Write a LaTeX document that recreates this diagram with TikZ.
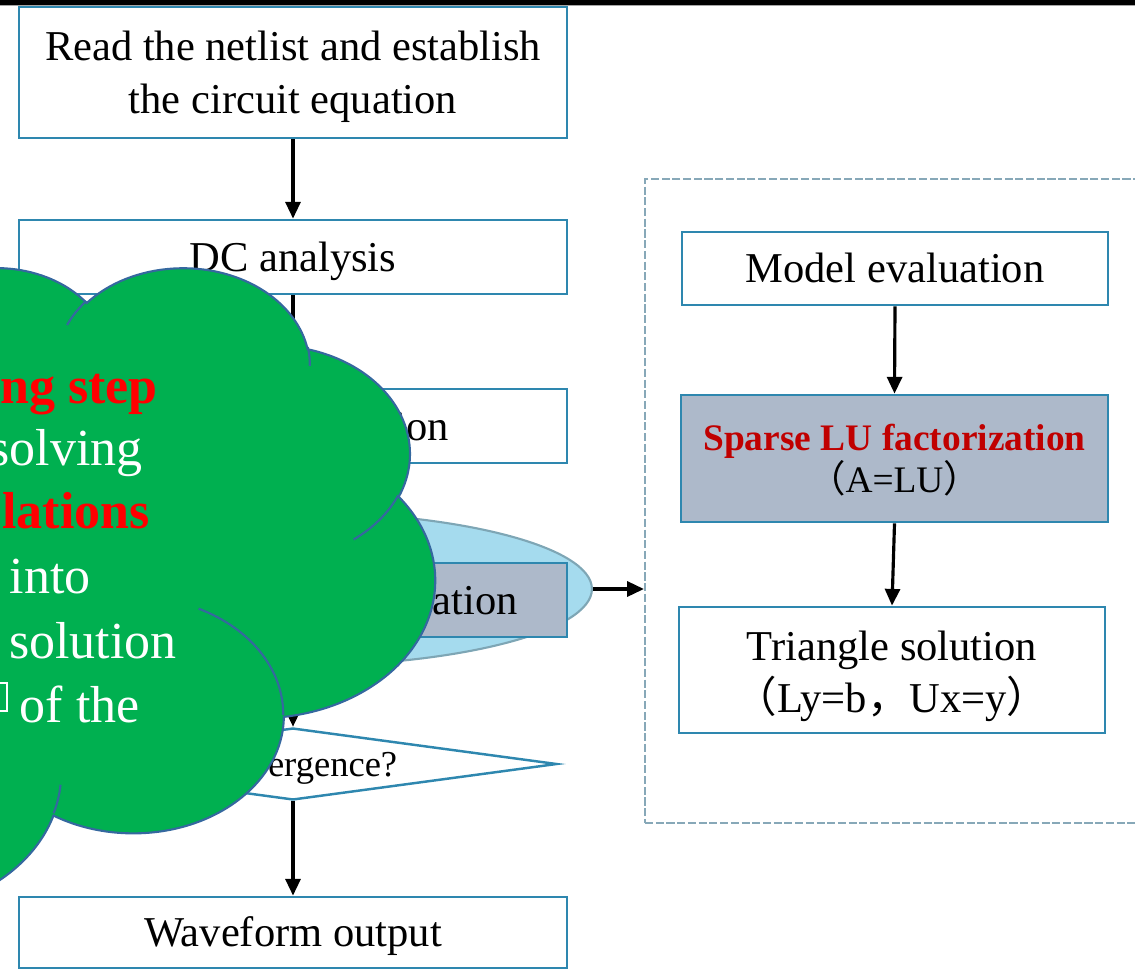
\documentclass[tikz,border=0pt]{standalone}
\usepackage{fontspec}
\setmainfont{Liberation Serif}
\newfontfamily\cjkfont{Noto Sans CJK SC}
\usetikzlibrary{arrows.meta,shapes.geometric}

\definecolor{boxblue}{RGB}{46,135,175}
\definecolor{boxgray}{HTML}{ADB9CA}
\definecolor{haloblue}{HTML}{A5DBEE}
\definecolor{halorim}{HTML}{7EA6B5}
\definecolor{cloudgreen}{HTML}{00B050}
\definecolor{cloudrim}{HTML}{35689F}
\definecolor{hotred}{HTML}{FF0000}
\definecolor{darkred}{HTML}{C00000}
\definecolor{dashgray}{HTML}{87A8B8}

% Elliptic arc given by radii (pt) and visual start/swing angles (deg);
% the angles are turned into parametric ones and "arc[...]" is stored in \#1
\newcommand\defcloudarc[5]{%
  \pgfmathsetmacro\cldA{#4}%
  \pgfmathsetmacro\cldB{(#4)+(#5)}%
  \pgfmathsetmacro\cldTA{(\cldA)+mod(atan2((#2)*sin(\cldA),(#3)*cos(\cldA))-(\cldA)+540,360)-180}%
  \pgfmathsetmacro\cldTB{(\cldB)+mod(atan2((#2)*sin(\cldB),(#3)*cos(\cldB))-(\cldB)+540,360)-180}%
  \expandafter\xdef\csname #1\endcsname{arc[start angle=\cldTA, end angle=\cldTB, x radius=#2pt, y radius=#3pt]}%
}

% cloud outline, drawn in a 43.2pt x 43.2pt frame with y pointing down
\defcloudarc{cldarcA}{6.753}{9.190}{-190.48748}{123.78053}
\defcloudarc{cldarcB}{5.333}{7.267}{-144.10238}{89.94523}
\defcloudarc{cldarcC}{4.365}{5.945}{-145.80792}{99.72302}
\defcloudarc{cldarcD}{4.857}{6.595}{-130.98607}{117.24173}
\defcloudarc{cldarcE}{5.333}{7.273}{-78.70888}{109.02692}
\defcloudarc{cldarcF}{6.775}{9.220}{-46.26725}{130.26900}
\defcloudarc{cldarcG}{5.785}{7.867}{0.62502}{114.03333}
\defcloudarc{cldarcH}{6.752}{9.215}{22.45160}{115.17255}
\defcloudarc{cldarcI}{7.720}{10.543}{66.24263}{77.82453}
\defcloudarc{cldarcJ}{4.360}{5.918}{-274.94208}{134.98358}
\defcloudarc{cldarcK}{4.345}{5.945}{-246.82850}{151.86362}
% inner creases of the cloud
\defcloudarc{cldstubA}{4.345}{5.945}{86.74200}{26.42950}
\defcloudarc{cldstubB}{4.360}{5.918}{73.61047}{11.44747}
\defcloudarc{cldstubC}{6.752}{9.215}{137.62415}{14.08110}
\defcloudarc{cldstubD}{6.752}{9.215}{6.45327}{15.99835}
\defcloudarc{cldstubE}{5.785}{7.867}{-70.29235}{70.91737}
\defcloudarc{cldstubF}{5.333}{7.273}{30.31800}{31.01380}
\defcloudarc{cldstubG}{4.857}{6.595}{-13.74907}{14.85072}
\defcloudarc{cldstubH}{4.857}{6.595}{-149.18145}{18.18433}
\defcloudarc{cldstubI}{4.365}{5.945}{-163.49427}{17.69867}
\defcloudarc{cldstubJ}{6.753}{9.190}{-66.70695}{12.31935}
\defcloudarc{cldstubK}{6.753}{9.190}{157.65435}{11.85817}

\tikzset{
  stepbox/.style={draw=boxblue, line width=1.6pt, fill=white, inner sep=0pt,
    font=\fontsize{24.2}{30.2}\selectfont, text height=21.56pt, text depth=5.23pt},
  graybox/.style={stepbox, fill=boxgray},
  boxline/.style={anchor=base, inner sep=0pt, font=\fontsize{24.2}{30.2}\selectfont},
  flow/.style={line width=1.8pt, -{Triangle[length=9.5pt,width=8.5pt]}},
  cloudtxt/.style={anchor=base east, inner sep=0pt,
    font=\fontsize{29.6}{36.3}\selectfont},
  cloudbold/.style={cloudtxt, text=hotred, font=\fontsize{29.6}{36.3}\selectfont\bfseries},
}

\begin{document}
\begin{tikzpicture}[x=0.02cm, y=-0.02cm]
\useasboundingbox (0,0) rectangle (1135,970);
\clip (0,0) rectangle (1135,970);

% top rule
\fill[black] (0,0) rectangle (1135,4.5);
\draw[black!35, line width=0.4pt] (0,5) -- (1135,5);

% detail frame on the right
\node[draw=dashgray, dash pattern=on 4.6pt off 1.5pt, line width=1.3pt,
  minimum width=10.1cm, minimum height=12.88cm, inner sep=0pt] (frame) at (897.5,501) {};

% main flow
\node[stepbox, minimum width=10.96cm, minimum height=2.62cm] (read) at (293,72.5) {};
\node[boxline] (read1) at (293,60) {Read the netlist and establish};
\node[boxline] (read2) at (293,113) {the circuit equation};
\node[stepbox, minimum width=10.96cm, minimum height=1.48cm] (dc) at (293,257) {DC analysis};
\node[stepbox, minimum width=10.96cm, minimum height=1.48cm] (trans) at (293,426) {Transient iteration};
\node[ellipse, draw=halorim, fill=haloblue, line width=1.2pt, minimum width=12cm,
  minimum height=3.08cm, inner sep=0pt] (halo) at (292,589) {};
\node[graybox, minimum width=10.96cm, minimum height=1.48cm] (nr) at (293,600) {Newton-Raphson iteration};
\node[diamond, draw=boxblue, line width=1.4pt, fill=white, aspect=7.33, inner sep=0pt,
  minimum width=10.56cm, minimum height=1.44cm, font=\fontsize{20.8}{24}\selectfont,
  text height=18.53pt, text depth=4.49pt] (conv) at (293,764) {Convergence?};
\node[stepbox, minimum width=10.96cm, minimum height=1.42cm] (wave) at (293,932.5) {Waveform output};

% detail steps
\node[stepbox, minimum width=8.52cm, minimum height=1.46cm] (model) at (895,268.5) {Model evaluation};
\node[graybox, minimum width=8.54cm, minimum height=2.54cm] (sparse) at (894.5,458.5) {};
\node[boxline, text=darkred, font=\fontsize{21.3}{24}\selectfont\bfseries] (sparse1) at (894.5,450) {Sparse LU factorization};
\node[boxline, font=\fontsize{21.3}{24}\selectfont] (sparse2) at (894.5,492) {{\cjkfont （}A=LU{\cjkfont ）}};
\node[stepbox, minimum width=8.52cm, minimum height=2.52cm] (tri) at (892,670) {};
\node[boxline] (tri1) at (892,660) {Triangle solution};
\node[boxline] (tri2) at (892,712) {{\cjkfont （}Ly=b{\cjkfont ，}Ux=y{\cjkfont ）}};

% connectors
\draw[flow] (read.south) -- (dc.north);
\draw[flow] (dc.south) -- (trans.north);
\draw[flow] (trans.south) -- (nr.north);
\draw[flow] (nr.south) -- (conv.north);
\draw[flow] (conv.south) -- (wave.north);
\draw[flow] (model.south) -- (sparse.north);
\draw[flow] (sparse.south) -- (tri.north);
\draw[flow] (halo.east) -- (halo.east -| frame.west);

% callout cloud
\begin{scope}[shift={(-690,266)}, xscale=14.819, yscale=-8.4965]
  \draw[fill=cloudgreen, draw=cloudrim, line width=1.2pt] (3.9pt,14.37pt)
    \cldarcA \cldarcB \cldarcC \cldarcD \cldarcE \cldarcF
    \cldarcG \cldarcH \cldarcI \cldarcJ \cldarcK -- cycle;
  \draw[cloudrim, line width=1.2pt]
    (4.693pt,26.177pt) \cldstubA (6.928pt,34.899pt) \cldstubB
    (16.478pt,39.090pt) \cldstubC (28.827pt,34.751pt) \cldstubD
    (34.129pt,22.954pt) \cldstubE (41.798pt,15.354pt) \cldstubF
    (38.324pt,5.426pt) \cldstubG (29.078pt,3.952pt) \cldstubH
    (22.141pt,4.720pt) \cldstubI (14.000pt,5.192pt) \cldstubJ
    (4.127pt,15.789pt) \cldstubK;
\end{scope}

% cloud text
\node[cloudbold] (c1) at (158,403) {ng step};
\node[cloudtxt, text=white] (c2) at (143,465) {solving};
\node[cloudbold] (c3) at (150,528) {lations};
\node[cloudtxt, text=white] (c4) at (91,593) {into};
\node[cloudtxt, text=white] (c5) at (177,658) {solution};
\node[cloudtxt, text=white] (c6) at (140,722) {of the};
\draw[white, line width=0.8pt] (-10,683) rectangle (7,711);
\end{tikzpicture}
\end{document}
